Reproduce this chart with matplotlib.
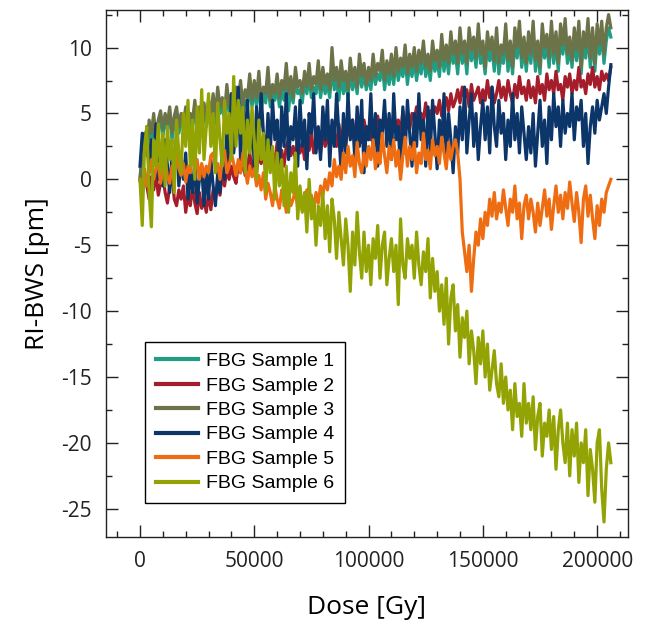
import numpy as np
import matplotlib
matplotlib.use("Agg")
import matplotlib.pyplot as plt
from matplotlib.ticker import MultipleLocator

plt.rcParams["axes.unicode_minus"] = False

dose = np.arange(0, 206001, 1000)

s1 = [0.0, 2.0, 3.0, 1.8, 3.8, 3.0, 4.2, 2.8, 4.0, 4.5,
      3.2, 4.5, 3.8, 4.8, 3.0, 4.2, 4.8, 3.5, 4.5, 3.8,
      4.8, 3.5, 4.5, 4.0, 5.2, 3.8, 5.0, 4.2, 5.2, 4.0,
      5.2, 4.5, 5.8, 4.2, 6.2, 5.0, 5.5, 4.5, 6.5, 5.0,
      5.8, 4.8, 6.2, 5.5, 6.8, 5.0, 6.0, 5.5, 7.0, 5.5,
      6.8, 5.5, 7.2, 5.2, 6.5, 5.8, 7.5, 5.5, 6.5, 6.0,
      7.0, 5.5, 6.8, 6.0, 7.8, 5.2, 7.0, 5.8, 7.5, 6.5,
      6.8, 5.8, 7.5, 6.5, 7.8, 6.2, 7.0, 6.5, 8.0, 6.2,
      7.5, 6.5, 7.2, 6.2, 8.5, 6.8, 7.5, 6.0, 8.0, 6.5,
      7.5, 6.2, 8.2, 6.8, 7.8, 6.5, 8.5, 7.0, 8.0, 6.8,
      7.8, 6.8, 8.5, 7.2, 8.0, 7.5, 8.8, 6.8, 8.2, 7.2,
      8.5, 7.2, 9.0, 7.5, 8.5, 7.8, 9.2, 7.2, 8.8, 7.8,
      9.0, 7.5, 8.8, 8.0, 9.5, 7.8, 8.8, 7.5, 9.5, 8.2,
      9.0, 7.8, 10.0, 8.2, 9.5, 8.0, 10.2, 8.8, 9.5, 8.0,
      10.5, 8.8, 9.8, 8.0, 10.5, 9.0, 10.0, 8.5, 10.8, 8.8,
      9.5, 8.0, 10.2, 9.0, 10.0, 8.2, 10.5, 8.0, 9.5, 8.8,
      10.8, 8.2, 9.8, 8.0, 10.5, 9.2, 11.0, 8.5, 10.0, 8.2,
      10.2, 8.8, 11.0, 8.2, 9.8, 8.0, 10.8, 9.2, 10.2, 8.5,
      11.0, 8.8, 10.5, 8.2, 10.8, 9.5, 11.2, 8.8, 10.0, 8.5,
      10.5, 9.0, 11.0, 8.0, 10.5, 9.2, 11.2, 8.5, 10.8, 8.2,
      10.8, 9.5, 11.0, 8.8, 10.5, 11.5, 10.8]

s2 = [0.0, -1.0, 0.5, -0.5, -1.5, 0.2, -0.8, 0.5, -1.2, -0.3,
      0.3, -1.0, -1.8, -0.5, 0.5, -1.5, -2.0, -0.8, -1.5, -0.5,
      -2.5, -1.2, -2.0, -0.5, -1.8, -2.6, -1.0, -2.2, -1.5, -2.5,
      -1.0, -2.3, -0.8, -1.5, -0.2, -1.2, 0.5, -0.5, 0.8, 0.0,
      1.0, 0.2, -0.3, 1.2, 0.5, 1.5, 0.3, 1.0, 2.0, 0.8,
      1.5, 0.5, 2.2, 1.2, 1.8, 0.8, 2.5, 1.5, 2.0, 1.2,
      2.8, 1.5, 2.2, 1.0, 2.5, 3.0, 1.8, 2.5, 1.5, 3.2,
      2.0, 2.8, 1.5, 3.0, 2.2, 3.5, 2.0, 2.8, 3.2, 2.0,
      3.5, 2.5, 3.0, 4.0, 2.8, 3.5, 2.5, 4.2, 3.0, 3.8,
      2.8, 4.0, 3.2, 4.5, 3.0, 3.8, 4.2, 2.8, 4.5, 3.5,
      4.0, 3.0, 4.5, 3.5, 4.8, 3.2, 4.2, 5.0, 3.5, 4.5,
      3.8, 5.0, 4.0, 4.5, 3.5, 5.2, 4.2, 4.8, 3.8, 5.0,
      4.5, 5.5, 4.0, 5.0, 4.5, 5.8, 4.2, 5.2, 4.8, 5.5,
      5.0, 6.0, 4.8, 5.5, 6.2, 5.2, 6.5, 5.5, 6.0, 6.8,
      5.8, 7.0, 6.2, 6.8, 5.5, 7.2, 6.0, 6.5, 7.0, 5.8,
      6.8, 6.0, 7.5, 6.2, 7.0, 5.8, 6.5, 7.5, 6.2, 7.0,
      6.0, 7.5, 6.5, 5.8, 7.2, 6.2, 7.8, 6.5, 7.0, 6.0,
      7.5, 6.2, 7.0, 5.8, 7.8, 6.5, 7.2, 6.0, 8.0, 6.8,
      7.5, 6.5, 8.2, 6.8, 7.2, 6.0, 7.8, 7.0, 8.0, 6.5,
      7.5, 6.8, 8.5, 7.0, 7.5, 6.5, 8.0, 7.2, 8.5, 7.0,
      7.8, 6.8, 8.2, 7.5, 8.0, 7.5, 8.5]

s3 = [0.0, 2.5, 3.5, 2.0, 4.5, 3.5, 5.0, 3.0, 4.5, 5.2,
      3.8, 5.0, 4.2, 5.5, 3.5, 4.8, 5.5, 4.0, 5.0, 4.2,
      5.5, 3.8, 5.0, 4.5, 6.0, 4.2, 5.5, 4.8, 5.8, 4.5,
      6.0, 5.0, 6.5, 4.8, 7.0, 5.5, 6.2, 5.0, 7.2, 5.5,
      6.5, 5.2, 7.0, 6.0, 7.5, 5.5, 6.8, 6.2, 8.0, 6.0,
      7.5, 6.2, 8.2, 5.8, 7.0, 6.5, 8.5, 6.0, 7.2, 6.5,
      8.0, 6.2, 7.5, 6.8, 8.8, 6.5, 7.8, 6.2, 8.5, 7.0,
      7.5, 6.5, 8.2, 7.0, 8.8, 6.8, 7.8, 7.2, 9.0, 6.8,
      8.5, 7.2, 8.0, 6.8, 10.0, 7.5, 8.5, 7.0, 9.0, 7.5,
      8.2, 6.8, 9.2, 7.5, 8.5, 7.0, 9.5, 7.8, 8.8, 7.2,
      8.5, 7.5, 9.5, 7.8, 8.8, 8.2, 9.8, 7.5, 9.0, 8.0,
      9.5, 7.8, 10.0, 8.2, 9.2, 8.5, 10.2, 8.0, 9.5, 8.5,
      10.0, 8.2, 9.8, 8.8, 10.5, 8.5, 9.5, 8.2, 10.5, 9.0,
      9.8, 8.5, 11.0, 9.0, 10.2, 8.8, 11.2, 9.5, 10.5, 8.8,
      11.5, 9.5, 10.5, 8.8, 11.5, 9.8, 10.8, 9.2, 11.8, 9.5,
      10.5, 8.5, 11.2, 9.8, 10.8, 9.0, 11.5, 8.8, 10.2, 9.5,
      11.8, 9.0, 10.5, 8.5, 11.5, 10.0, 12.0, 9.2, 10.8, 8.8,
      11.2, 9.5, 12.0, 9.0, 10.5, 8.5, 11.8, 10.0, 11.0, 9.2,
      12.0, 9.5, 11.2, 8.8, 11.8, 10.2, 12.2, 9.5, 10.8, 9.0,
      11.5, 9.8, 12.0, 8.5, 11.2, 10.0, 12.2, 9.2, 11.5, 8.8,
      11.8, 10.2, 12.0, 9.5, 11.5, 12.5, 11.5]

s4 = [1.0, 3.5, 2.0, 4.0, 0.5, 3.0, 1.5, 4.2, 0.0, 2.5,
      -0.5, 3.0, 1.0, -1.0, 2.0, 0.5, 3.5, -0.5, 1.5, 0.0,
      2.0, -1.5, 0.5, -1.0, 1.5, -1.8, 0.0, 1.0, -2.0, 0.5,
      -1.5, 1.5, -0.5, -2.0, 0.5, -1.0, 2.5, 0.0, 3.5, 1.0,
      6.5, 2.0, 4.0, 7.0, 1.5, 5.5, 3.0, 6.0, 2.0, 4.5,
      1.0, 5.5, 2.5, 6.5, 3.5, 1.5, 5.0, 2.0, 6.0, 3.0,
      4.5, 0.5, 5.5, 2.5, 6.5, 1.5, 4.0, 3.0, 5.5, 1.0,
      6.0, 2.5, 4.5, 0.8, 5.0, 3.5, 6.5, 2.0, 4.0, 1.5,
      5.5, 3.0, 6.0, 1.0, 4.5, 2.5, 6.5, 3.5, 0.5, 5.0,
      2.0, 6.5, 3.0, 4.5, 1.5, 5.5, 2.5, 6.0, 0.5, 4.0,
      3.0, 6.5, 2.0, 5.0, 1.0, 4.5, 3.5, 6.0, 2.5, 5.0,
      1.5, 6.5, 3.0, 4.0, 0.5, 5.5, 2.0, 6.0, 3.5, 1.0,
      5.0, 2.5, 6.5, 3.0, 4.5, 1.0, 5.5, 2.0, 6.0, 3.5,
      0.8, 4.5, 2.5, 6.5, 1.5, 5.0, 3.0, 0.5, 4.0, 2.0,
      5.5, 3.0, 7.0, 2.0, 4.5, 6.5, 2.5, 5.0, 1.5, 4.0,
      6.0, 3.0, 5.5, 2.0, 7.0, 4.0, 2.5, 6.0, 3.5, 5.0,
      1.5, 4.5, 2.5, 6.5, 3.0, 5.0, 2.0, 5.5, 3.5, 1.5,
      4.0, 2.0, 5.0, 1.0, 3.5, 6.0, 2.5, 4.5, 1.2, 5.5,
      3.0, 6.5, 4.0, 5.5, 2.5, 6.0, 3.5, 5.0, 4.0, 6.5,
      3.0, 5.5, 4.5, 6.0, 2.5, 5.0, 1.2, 4.0, 5.5, 3.5,
      6.0, 4.5, 5.5, 6.5, 5.0, 7.0, 8.7]

s5 = [0.0, -1.2, 0.8, -0.5, 0.5, 1.5, 0.0, 0.8, 1.2, -0.3,
      0.6, 1.5, 0.2, -0.3, 1.0, 0.5, 2.0, 0.8, 0.3, 1.2,
      -0.2, 1.0, 0.5, 2.2, 0.8, 1.5, 0.0, 1.2, 0.2, 1.0,
      0.5, 1.8, 2.0, 0.8, 1.2, 0.0, 1.5, 2.2, 0.5, 1.0,
      2.0, 1.2, 0.3, 1.5, 0.5, 2.0, 0.8, -0.3, 1.0, 0.2,
      0.8, -0.5, 0.3, -0.8, 0.5, -1.5, -0.3, -1.0, -2.0, -0.5,
      -1.5, -2.2, -0.8, -1.2, -2.5, -1.0, -2.0, -1.5, -0.8, -2.2,
      -1.2, -2.4, -1.5, -0.8, -2.0, -1.2, -2.5, -1.0, -1.8, -0.5,
      -1.2, 0.0, -0.8, 0.5, -0.5, 1.5, 0.2, 1.0, 0.0, 2.0,
      0.5, 2.5, 1.0, 1.8, 0.2, 2.8, 1.2, 0.5, 2.0, 1.0,
      2.5, 1.5, 3.0, 0.8, 2.0, 1.2, 3.5, 1.8, 0.5, 2.5,
      1.5, 3.0, 1.0, 2.2, 0.0, 1.8, 3.2, 1.0, 2.5, 1.5,
      2.8, 0.5, 2.0, 1.2, 3.5, 1.5, 2.2, 0.8, 3.0, 1.8,
      2.5, 1.2, 3.2, 2.0, 0.8, 2.8, 1.5, 2.5, 3.0, 2.0,
      0.0, -4.0, -5.5, -7.0, -5.0, -8.5, -6.0, -4.0, -5.0, -3.0,
      -4.5, -2.5, -3.5, -1.5, -2.8, -1.0, -3.0, -1.8, -2.5, -0.8,
      -2.2, -3.5, -1.5, -2.5, -0.5, -3.0, -1.8, -4.5, -2.0, -1.2,
      -3.0, -1.5, -2.5, -4.0, -1.8, -3.5, -2.2, -0.8, -2.8, -1.5,
      -3.8, -2.0, -0.5, -2.5, -1.2, -3.0, -1.0, -2.2, -0.2, -1.8,
      -3.2, -1.0, -2.5, -4.8, -1.5, -0.5, -2.8, -1.2, -3.0, -4.5,
      -2.0, -3.5, -1.5, -2.5, -1.0, -0.5, 0.0]

s6 = [0.0, -3.5, 2.5, 4.0, -1.0, -3.6, 3.0, 1.0, 4.2, 0.5,
      3.5, -0.5, 4.0, 1.5, 3.0, -1.0, 4.5, 2.0, 0.5, 5.0,
      2.5, 6.0, 1.0, 4.5, 0.0, 5.5, 2.0, 6.8, 1.5, 4.0,
      6.5, 2.5, 5.0, 0.5, 5.8, 3.0, 1.0, 6.0, 3.5, 5.0,
      1.5, 7.8, 2.5, 6.0, 3.5, 5.5, 0.5, 4.5, 2.0, 5.5,
      3.0, 0.0, 4.5, 1.5, 3.5, -1.0, 3.0, 0.5, 2.5, -1.5,
      2.0, -0.5, 1.5, -2.0, 1.0, -2.5, 0.5, -1.0, 2.0, -3.0,
      -0.5, -2.5, -1.0, -4.0, 0.0, -3.0, -1.5, -5.0, -2.0, -3.5,
      -1.0, -4.5, -2.0, -5.5, -1.5, -3.0, -6.0, -2.5, -4.5, -6.5,
      -3.0, -5.0, -8.5, -4.0, -6.5, -2.5, -5.5, -7.5, -4.0, -7.0,
      -5.0, -8.0, -4.5, -6.0, -3.5, -7.5, -5.0, -4.0, -8.0, -6.0,
      -4.5, -7.0, -5.0, -9.5, -3.0, -6.5, -7.5, -4.5, -6.0, -5.0,
      -7.5, -4.0, -6.5, -8.0, -5.5, -7.0, -4.5, -9.0, -6.0, -8.5,
      -7.0, -10.0, -8.0, -11.0, -7.5, -12.5, -9.0, -8.0, -11.5, -9.5,
      -13.5, -10.5, -12.0, -10.0, -14.0, -11.5, -13.0, -15.5, -12.0, -14.0,
      -11.5, -15.0, -12.5, -16.0, -14.5, -13.0, -15.5, -16.5, -14.0, -17.0,
      -15.0, -17.5, -16.0, -19.0, -15.5, -18.0, -17.0, -19.5, -15.5, -18.5,
      -17.0, -19.0, -16.5, -20.5, -18.0, -17.0, -21.0, -18.5, -19.5, -17.5,
      -20.5, -18.0, -22.0, -19.0, -17.5, -20.0, -21.5, -18.5, -22.5, -19.0,
      -21.0, -18.5, -23.0, -20.0, -21.5, -19.0, -24.0, -20.5, -22.0, -24.5,
      -20.0, -19.0, -23.5, -26.0, -22.0, -20.0, -21.5]

labels = ["FBG Sample 1", "FBG Sample 2", "FBG Sample 3", "FBG Sample 4", "FBG Sample 5", "FBG Sample 6"]
colors = ["#1f9e84", "#a51d2b", "#6c7348", "#0c356a", "#ef6d12", "#93a303"]
series = [s1, s2, s3, s4, s5, s6]

fig = plt.figure(figsize=(6.49, 6.28), dpi=100)
ax = fig.add_axes([106/649, 1-537/628, (628-106)/649, (537-10)/628])

for y, c, lab in zip(series, colors, labels):
    ax.plot(dose, y, color=c, lw=2.3, label=lab)

ax.set_xlim(-14870, 213500)
ax.set_ylim(-27.14, 12.85)
ax.xaxis.set_major_locator(MultipleLocator(50000))
ax.xaxis.set_minor_locator(MultipleLocator(10000))
ax.yaxis.set_major_locator(MultipleLocator(5))
ax.yaxis.set_minor_locator(MultipleLocator(2.5))
ax.tick_params(which="both", direction="in", top=True, right=True, width=1.0, colors="#222222")
ax.tick_params(which="major", length=8.5, pad=10, labelsize=15)
ax.tick_params(which="minor", length=4.5)
for lab in ax.get_xticklabels() + ax.get_yticklabels():
    lab.set_fontfamily("Open Sans")
for s in ax.spines.values():
    s.set_linewidth(1.0)
    s.set_color("#222222")

ax.set_xlabel("Dose [Gy]", fontsize=19, family="Open Sans", labelpad=17)
ax.set_ylabel("RI-BWS [pm]", fontsize=19, family="Open Sans", labelpad=8)

leg = ax.legend(loc="lower left", bbox_to_anchor=(0.0747, 0.0645), borderaxespad=0,
                prop={"family": "Liberation Sans", "size": 14}, frameon=True, fancybox=False,
                edgecolor="black", framealpha=1, labelspacing=0.35, handlelength=2.2,
                handletextpad=0.4, borderpad=0.55)
leg.get_frame().set_linewidth(1.0)
for h in leg.get_lines():
    h.set_linewidth(3)

fig.savefig("out.png", dpi=100)
